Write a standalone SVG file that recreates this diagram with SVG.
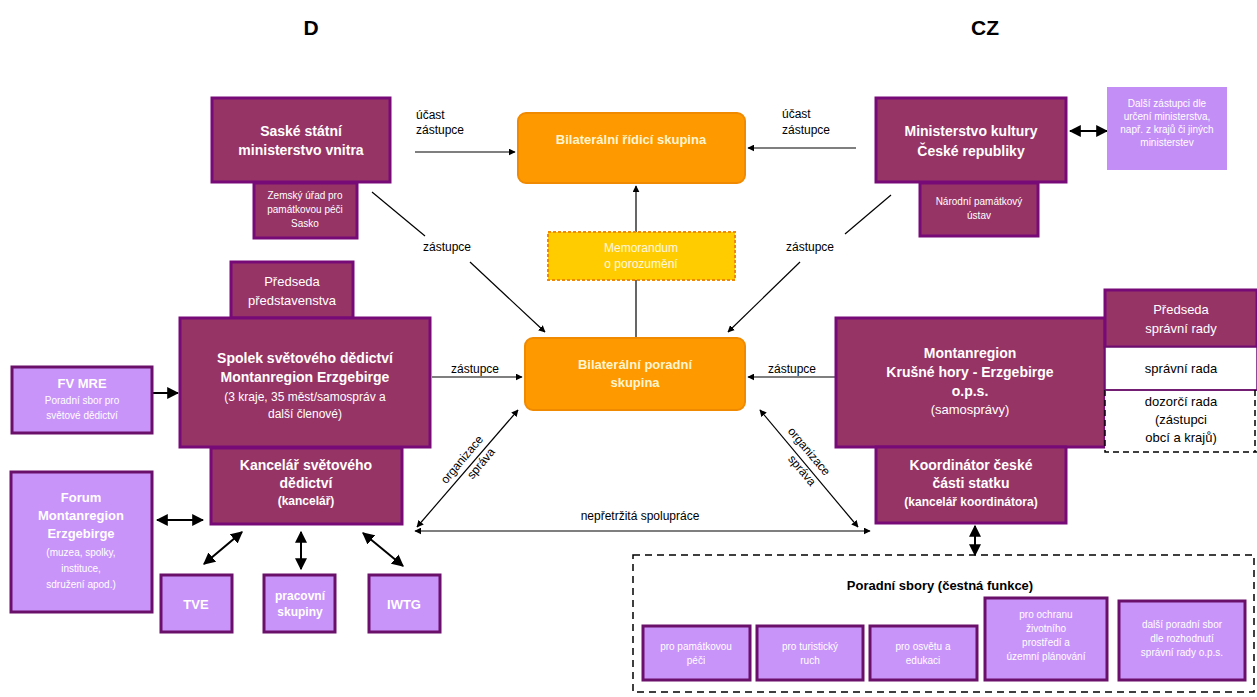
<svg xmlns="http://www.w3.org/2000/svg" width="1257" height="697" viewBox="0 0 1257 697">
<defs>
<marker id="ah" viewBox="0 0 10 10" refX="9" refY="5" markerWidth="7" markerHeight="7" orient="auto-start-reverse" markerUnits="userSpaceOnUse">
<path d="M0,0 L10,5 L0,10 z" fill="#000"/>
</marker>
<marker id="ahb" viewBox="0 0 10 10" refX="9" refY="5" markerWidth="12" markerHeight="12" orient="auto-start-reverse" markerUnits="userSpaceOnUse">
<path d="M0,0 L10,5 L0,10 z" fill="#000"/>
</marker>
<style>
.dk{fill:#963465;stroke:#780A78;stroke-width:3}
.lt{fill:#C994FA;stroke:#6A0F6A;stroke-width:3}
.or{fill:#FF9900;stroke:#F08A00;stroke-width:2}
.t{font-family:"Liberation Sans",Arial,sans-serif;text-anchor:middle}
.wb{fill:#fff;font-weight:bold;font-size:14px}
.wn{fill:#fff;font-size:13px}
.ws{fill:#fff;font-size:10px}
.lb{fill:#000;font-size:12px;font-family:"Liberation Sans",Arial,sans-serif}
.ln{stroke:#000;stroke-width:1.2;fill:none}
.lnb{stroke:#000;stroke-width:2;fill:none}
</style>
</defs>
<rect width="1257" height="697" fill="#fff"/>

<g id="headers">
<text class="t" x="311" y="35" font-size="21" font-weight="bold">D</text>
<text class="t" x="985" y="35" font-size="21" font-weight="bold">CZ</text>
</g>

<g id="connectors">
<line class="ln" x1="415" y1="152" x2="515" y2="152" marker-end="url(#ah)"/>
<line class="ln" x1="856" y1="148" x2="748" y2="148" marker-end="url(#ah)"/>
<line class="ln" x1="636" y1="338" x2="636" y2="186" marker-end="url(#ah)"/>
<line class="ln" x1="372" y1="192" x2="425" y2="236"/>
<line class="ln" x1="470" y1="262" x2="545" y2="332" marker-end="url(#ah)"/>
<line class="ln" x1="891" y1="195" x2="845" y2="234"/>
<line class="ln" x1="800" y1="262" x2="728" y2="332" marker-end="url(#ah)"/>
<line class="ln" x1="432" y1="377" x2="522" y2="377" marker-end="url(#ah)"/>
<line class="ln" x1="835" y1="377" x2="748" y2="377" marker-end="url(#ah)"/>
<line class="ln" x1="417" y1="527" x2="518" y2="410" marker-start="url(#ah)" marker-end="url(#ah)"/>
<line class="ln" x1="858" y1="527" x2="760" y2="410" marker-start="url(#ah)" marker-end="url(#ah)"/>
<line class="ln" x1="415" y1="531" x2="870" y2="531" marker-start="url(#ah)" marker-end="url(#ah)"/>
<line class="lnb" x1="1070" y1="131" x2="1107" y2="131" marker-start="url(#ahb)" marker-end="url(#ahb)"/>
<line class="lnb" x1="153" y1="393" x2="178" y2="393" marker-end="url(#ahb)"/>
<line class="lnb" x1="157" y1="520" x2="203" y2="520" marker-start="url(#ahb)" marker-end="url(#ahb)"/>
<line class="lnb" x1="204" y1="564" x2="242" y2="532" marker-start="url(#ahb)" marker-end="url(#ahb)"/>
<line class="lnb" x1="301" y1="532" x2="301" y2="569" marker-start="url(#ahb)" marker-end="url(#ahb)"/>
<line class="lnb" x1="363" y1="533" x2="403" y2="566" marker-start="url(#ahb)" marker-end="url(#ahb)"/>
<line class="lnb" x1="975" y1="526" x2="975" y2="555" marker-start="url(#ahb)" marker-end="url(#ahb)"/>
<text class="lb" x="416" y="119">účast</text>
<text class="lb" x="416" y="134">zástupce</text>
<text class="lb" x="782" y="118">účast</text>
<text class="lb" x="782" y="134">zástupce</text>
<text class="lb" x="447" y="251" text-anchor="middle">zástupce</text>
<text class="lb" x="810" y="251" text-anchor="middle">zástupce</text>
<text class="lb" x="475" y="373" text-anchor="middle">zástupce</text>
<text class="lb" x="792" y="373" text-anchor="middle">zástupce</text>
<text class="lb" x="640" y="520" text-anchor="middle">nepřetržitá spolupráce</text>
<text class="lb" text-anchor="middle" transform="translate(465,462) rotate(-50)">organizace</text>
<text class="lb" text-anchor="middle" transform="translate(484,466) rotate(-50)">správa</text>
<text class="lb" text-anchor="middle" transform="translate(806,454) rotate(50)">organizace</text>
<text class="lb" text-anchor="middle" transform="translate(799,473) rotate(50)">správa</text>
</g>

<g id="saske">
<rect class="dk" x="212" y="98" width="178" height="84"/>
<text class="t wb" x="301" y="136">Saské státní</text>
<text class="t wb" x="301" y="155">ministerstvo vnitra</text>
</g>
<g id="zemsky">
<rect class="dk" x="254" y="183" width="103" height="55"/>
<text class="t ws" x="305" y="199">Zemský úřad pro</text>
<text class="t ws" x="305" y="213">památkovou péči</text>
<text class="t ws" x="305" y="227">Sasko</text>
</g>

<g id="ridici">
<rect class="or" x="518" y="113" width="227" height="70" rx="8"/>
<text class="t" x="631" y="144" font-size="13" font-weight="bold" fill="#FFF6D0">Bilaterální řídicí skupina</text>
</g>

<g id="mkcr">
<rect class="dk" x="876" y="98" width="190" height="84"/>
<text class="t wb" x="971" y="136">Ministerstvo kultury</text>
<text class="t wb" x="971" y="156">České republiky</text>
</g>
<g id="npu">
<rect class="dk" x="920" y="183" width="118" height="53"/>
<text class="t ws" x="979" y="205">Národní památkový</text>
<text class="t ws" x="979" y="219">ústav</text>
</g>

<g id="dalsi">
<rect x="1107" y="87" width="120" height="83" fill="#C48EF7"/>
<text class="t ws" x="1167" y="107">Další zástupci dle</text>
<text class="t ws" x="1167" y="120">určení ministerstva,</text>
<text class="t ws" x="1167" y="133">např. z krajů či jiných</text>
<text class="t ws" x="1167" y="146">ministerstev</text>
</g>

<g id="memorandum">
<rect x="548" y="232" width="187" height="48" fill="#FFCC00" stroke="#F08A00" stroke-width="2" stroke-dasharray="3,2"/>
<text class="t" x="641" y="252" font-size="12" fill="#FFF8E0">Memorandum</text>
<text class="t" x="641" y="268" font-size="12" fill="#FFF8E0">o porozumění</text>
</g>

<g id="predseda">
<rect class="dk" x="231" y="262" width="122" height="56"/>
<text class="t wn" x="292" y="286">Předseda</text>
<text class="t wn" x="292" y="305">představenstva</text>
</g>

<g id="spolek">
<rect class="dk" x="180" y="318" width="250" height="129"/>
<text class="t wb" x="305" y="363">Spolek světového dědictví</text>
<text class="t wb" x="305" y="382">Montanregion Erzgebirge</text>
<text class="t" x="305" y="401" font-size="12" fill="#fff">(3 kraje, 35 měst/samospráv a</text>
<text class="t" x="305" y="418" font-size="12" fill="#fff">další členové)</text>
</g>

<g id="fvmre">
<rect class="lt" x="12" y="367" width="140" height="66"/>
<text class="t" x="82" y="388" font-size="13" font-weight="bold" fill="#fff">FV MRE</text>
<text class="t ws" x="82" y="404" font-size="11">Poradní sbor pro</text>
<text class="t ws" x="82" y="419" font-size="11">světové dědictví</text>
</g>

<g id="poradni">
<rect class="or" x="525" y="338" width="220" height="72" rx="8"/>
<text class="t" x="635" y="369" font-size="13" font-weight="bold" fill="#FFF6D0">Bilaterální poradní</text>
<text class="t" x="635" y="387" font-size="13" font-weight="bold" fill="#FFF6D0">skupina</text>
</g>

<g id="montanregion">
<rect class="dk" x="836" y="318" width="269" height="129"/>
<text class="t wb" x="970" y="358">Montanregion</text>
<text class="t wb" x="970" y="377">Krušné hory - Erzgebirge</text>
<text class="t wb" x="970" y="396">o.p.s.</text>
<text class="t" x="970" y="414" font-size="13" fill="#fff">(samosprávy)</text>
</g>

<g id="predseda-spravni">
<rect class="dk" x="1105" y="290" width="152" height="57"/>
<text class="t wn" x="1181" y="314">Předseda</text>
<text class="t wn" x="1181" y="333">správní rady</text>
</g>
<g id="spravni-rada">
<rect x="1105" y="347" width="152" height="43" fill="#fff" stroke="#6A0F6A" stroke-width="1.5"/>
<text class="t" x="1181" y="373" font-size="13" fill="#000">správní rada</text>
</g>
<g id="dozorci-rada">
<path d="M1105,390 V452 H1257" fill="#fff" stroke="#000" stroke-width="1.5" stroke-dasharray="6,4"/>
<line x1="1105" y1="390" x2="1257" y2="390" stroke="#6A0F6A" stroke-width="1.5"/>
<line x1="1255" y1="390" x2="1255" y2="452" stroke="#000" stroke-width="1.5" stroke-dasharray="6,4"/>
<text class="t" x="1181" y="406" font-size="13" fill="#000">dozorčí rada</text>
<text class="t" x="1181" y="424" font-size="13" fill="#000">(zástupci</text>
<text class="t" x="1181" y="442" font-size="13" fill="#000">obcí a krajů)</text>
</g>

<g id="kancelar">
<rect class="dk" x="211" y="448" width="191" height="76"/>
<text class="t wb" x="306" y="470">Kancelář světového</text>
<text class="t wb" x="306" y="488">dědictví</text>
<text class="t" x="306" y="505" font-size="12" font-weight="bold" fill="#fff">(kancelář)</text>
</g>

<g id="koordinator">
<rect class="dk" x="876" y="447" width="190" height="76"/>
<text class="t wb" x="971" y="470">Koordinátor české</text>
<text class="t wb" x="971" y="488">části statku</text>
<text class="t" x="971" y="506" font-size="12" font-weight="bold" fill="#fff">(kancelář koordinátora)</text>
</g>

<g id="forum">
<rect class="lt" x="11" y="472" width="141" height="140"/>
<text class="t" x="81" y="502" font-size="13" font-weight="bold" fill="#fff">Forum</text>
<text class="t" x="81" y="520" font-size="13" font-weight="bold" fill="#fff">Montanregion</text>
<text class="t" x="81" y="538" font-size="13" font-weight="bold" fill="#fff">Erzgebirge</text>
<text class="t ws" x="81" y="556" font-size="11">(muzea, spolky,</text>
<text class="t ws" x="81" y="572" font-size="11">instituce,</text>
<text class="t ws" x="81" y="588" font-size="11">sdružení apod.)</text>
</g>

<g id="tve">
<rect class="lt" x="161" y="575" width="71" height="57"/>
<text class="t" x="196" y="609" font-size="13" font-weight="bold" fill="#fff">TVE</text>
</g>
<g id="pracovni">
<rect class="lt" x="264" y="575" width="71" height="57"/>
<text class="t" x="300" y="600" font-size="12" font-weight="bold" fill="#fff">pracovní</text>
<text class="t" x="300" y="616" font-size="12" font-weight="bold" fill="#fff">skupiny</text>
</g>
<g id="iwtg">
<rect class="lt" x="369" y="575" width="71" height="57"/>
<text class="t" x="404" y="609" font-size="13" font-weight="bold" fill="#fff">IWTG</text>
</g>

<g id="poradni-sbory">
<rect x="633" y="555" width="621" height="137" fill="none" stroke="#000" stroke-width="1.5" stroke-dasharray="7,5"/>
<text class="t" x="940" y="590" font-size="13" font-weight="bold" fill="#000">Poradní sbory (čestná funkce)</text>
</g>
<g id="sbor-pamatky">
<rect class="lt" x="643" y="626" width="107" height="54"/>
<text class="t ws" x="696" y="650">pro památkovou</text>
<text class="t ws" x="696" y="664">péči</text>
</g>
<g id="sbor-turismus">
<rect class="lt" x="757" y="626" width="106" height="54"/>
<text class="t ws" x="810" y="650">pro turistický</text>
<text class="t ws" x="810" y="664">ruch</text>
</g>
<g id="sbor-osveta">
<rect class="lt" x="870" y="626" width="107" height="54"/>
<text class="t ws" x="923" y="650">pro osvětu a</text>
<text class="t ws" x="923" y="664">edukaci</text>
</g>
<g id="sbor-zp">
<rect class="lt" x="985" y="598" width="122" height="82"/>
<text class="t ws" x="1046" y="618">pro ochranu</text>
<text class="t ws" x="1046" y="632">životního</text>
<text class="t ws" x="1046" y="646">prostředí a</text>
<text class="t ws" x="1046" y="660">územní plánování</text>
</g>
<g id="sbor-dalsi">
<rect class="lt" x="1119" y="601" width="126" height="79"/>
<text class="t ws" x="1182" y="628">další poradní sbor</text>
<text class="t ws" x="1182" y="642">dle rozhodnutí</text>
<text class="t ws" x="1182" y="656">správní rady o.p.s.</text>
</g>
</svg>
